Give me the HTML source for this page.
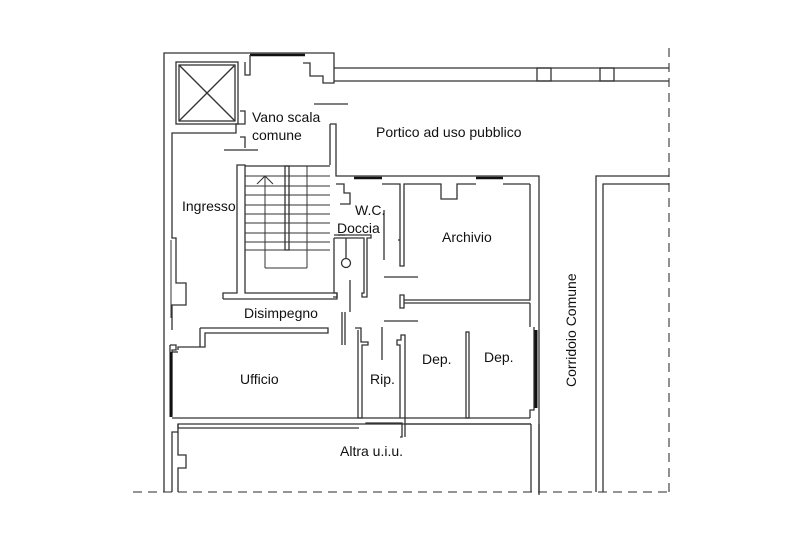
<!DOCTYPE html>
<html><head><meta charset="utf-8"><style>
html,body{margin:0;padding:0;background:#fff;}
svg{display:block}
text{font-family:"Liberation Sans",sans-serif;font-size:14px;fill:#111}
</style></head><body>
<svg width="800" height="533" viewBox="0 0 800 533" xmlns="http://www.w3.org/2000/svg">
<g fill="none" stroke="#333" stroke-width="1.3">
<!-- dashed boundaries -->
<line x1="133" y1="492" x2="670" y2="492" stroke-dasharray="9,6" stroke="#555"/>
<line x1="669" y1="48" x2="669" y2="492" stroke-dasharray="9,6" stroke="#555"/>
<!-- outer left/top wall -->
<polyline points="164,492 164,53 334,53 334,83 323,83 323,76 310,76 310,63 303,63"/>
<polyline points="172,492 172,432 178,432 178,424 531,424"/>
<polyline points="178,492 178,468 186,468 186,455 178,455 178,432"/>
<polyline points="172,415 172,350 176,350 176,345 170,345"/>
<polyline points="172,330 172,305 186,305 186,283 176,283 176,238 172,238 172,133 236,133 236,124 245,124 245,111 240,111"/>
<polyline points="240,137 245,137 245,148"/>
<!-- top window -->
<line x1="250" y1="55" x2="305" y2="55" stroke-width="2.5" stroke="#111"/>
<polyline points="245,62 245,75 250,75 250,55"/>
<!-- elevator -->
<rect x="176" y="62" width="62" height="62"/>
<rect x="179" y="65" width="56" height="56"/>
<line x1="179" y1="65" x2="235" y2="121"/><line x1="235" y1="65" x2="179" y2="121"/>
<!-- portico beam -->
<line x1="334" y1="68" x2="669" y2="68"/><line x1="334" y1="81" x2="669" y2="81"/>
<rect x="537" y="68" width="14" height="13"/><rect x="600" y="68" width="14" height="13"/>
<!-- door marks -->
<line x1="314" y1="104" x2="348" y2="104"/>
<line x1="224" y1="150" x2="258" y2="150"/>
<!-- stair hall right wall -->
<polyline points="330,124 336,124 336,176 539,176 539,495"/>
<polyline points="330,124 330,165"/>
<polyline points="530,184 530,300 404,300"/>
<polyline points="530,303 404,303 404,295 400,295 400,308 404,308 404,303"/>
<polyline points="530,303 530,327"/>
<polyline points="534,327 534,410 530,410 530,418"/>
<line x1="536" y1="330" x2="536" y2="408" stroke-width="3" stroke="#111"/>
<!-- WC top -->
<polyline points="336,184 344,184 344,193 350,193 350,204 340,204"/>
<line x1="354" y1="178" x2="382" y2="178" stroke-width="2.5" stroke="#111"/>
<polyline points="382,184 400,184 400,266 404,266 404,184 441,184 441,199 457,199 457,184 476,184"/>
<line x1="476" y1="178" x2="503" y2="178" stroke-width="2.5" stroke="#111"/>
<polyline points="503,184 530,184"/>
<polyline points="384,210 384,260"/>
<polyline points="400,240 398,240"/>
<polyline points="334,235 371,235 371,238 367,238 367,297 362,297 362,293 364,293 364,238 334,238"/>
<line x1="338" y1="235" x2="345" y2="235"/>
<line x1="346" y1="238" x2="346" y2="258"/>
<circle cx="346" cy="263" r="4.5"/>
<polyline points="334,238 334,293 337,293 337,297 333,297"/>
<line x1="350" y1="280" x2="350" y2="312"/>
<line x1="384" y1="277" x2="418" y2="277"/>
<line x1="384" y1="321" x2="418" y2="321"/>
<line x1="345" y1="312" x2="345" y2="345"/>
<line x1="342" y1="312" x2="342" y2="345"/>
<line x1="382" y1="327" x2="382" y2="360"/>
<!-- stair -->
<polyline points="223,299 337,299 337,293 245,293 245,165 237,165 237,293 223,293 223,299"/>
<rect x="245" y="166" width="85" height="2" stroke="none"/>
<polyline points="245,166 330,166"/>
<g stroke-width="1">
<line x1="245" y1="176" x2="330" y2="176"/><line x1="245" y1="186" x2="330" y2="186"/>
<line x1="245" y1="195" x2="330" y2="195"/><line x1="245" y1="205" x2="330" y2="205"/>
<line x1="245" y1="214" x2="330" y2="214"/><line x1="245" y1="223" x2="330" y2="223"/>
<line x1="245" y1="233" x2="330" y2="233"/><line x1="245" y1="242" x2="330" y2="242"/>
<line x1="245" y1="250" x2="330" y2="250"/>
<line x1="265" y1="176" x2="265" y2="268"/><line x1="307" y1="166" x2="307" y2="268"/>
<line x1="265" y1="268" x2="307" y2="268"/>
<polyline points="257,184 265,176 273,184"/>
</g>
<rect x="285" y="166" width="4" height="84"/>
<!-- Ufficio top -->
<polyline points="200,328 328,328 328,333 205,333 205,347 178,347 178,350"/>
<line x1="200" y1="328" x2="200" y2="347"/>
<line x1="170" y1="345" x2="170" y2="352"/>
<!-- Ufficio bottom -->
<line x1="172" y1="418" x2="530" y2="418"/>
<polyline points="178,424 178,428 359,428"/>
<line x1="172" y1="352" x2="178" y2="352"/>
<line x1="171" y1="352" x2="171" y2="417" stroke-width="3" stroke="#111"/>
<line x1="171" y1="240" x2="171" y2="318" stroke-width="1"/>
<!-- Rip / Dep walls -->
<polyline points="355,328 361,328 361,342 368,342 368,345 362,345 362,418 358,418 358,330"/>
<polyline points="366,424 366,423 402,423 402,437 400,437"/>
<polyline points="400,418 400,345 397,345 397,340 401,340 401,335 405,335 405,437"/>
<line x1="405" y1="424" x2="531" y2="424"/>
<rect x="466" y="332" width="3" height="86"/>
<!-- corridor -->
<polyline points="596,492 596,176 669,176"/>
<polyline points="603,492 603,184 669,184"/>
<line x1="539" y1="424" x2="539" y2="492"/>
<line x1="531" y1="424" x2="531" y2="492"/>
</g>
<text x="252" y="122">Vano scala</text>
<text x="252" y="140">comune</text>
<text x="376" y="137">Portico ad uso pubblico</text>
<text x="182" y="211">Ingresso</text>
<text x="355" y="215">W.C.</text>
<text x="337" y="233">Doccia</text>
<text x="442" y="242">Archivio</text>
<text x="244" y="318">Disimpegno</text>
<text x="240" y="384">Ufficio</text>
<text x="370" y="384">Rip.</text>
<text x="422" y="364">Dep.</text>
<text x="484" y="362">Dep.</text>
<text x="340" y="456">Altra u.i.u.</text>
<text transform="translate(576,387) rotate(-90)">Corridoio Comune</text>
</svg>
</body></html>
